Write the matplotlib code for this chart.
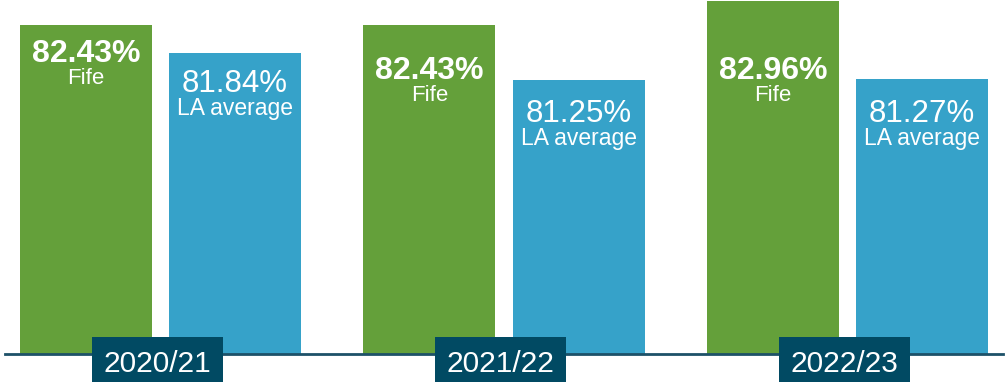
import matplotlib.pyplot as plt
import matplotlib.transforms as mtransforms
from matplotlib.patches import Rectangle
import numpy as np

plt.rcParams['font.family'] = ['Liberation Sans', 'DejaVu Sans']

# data
years = ['2020/21', '2021/22', '2022/23']
fife = [82.43, 82.43, 82.96]
la_avg = [81.84, 81.25, 81.27]

green = '#64a03a'
blue = '#36a2c9'
box_col = '#014a63'
line_col = '#1d5168'

W, H = 1006, 382
fig = plt.figure(figsize=(W / 100, H / 100), dpi=100)
base_px = 354  # axis line, pixels from top
ax = fig.add_axes([5 / W, (H - base_px) / H, 998 / W, base_px / H])

x = np.arange(len(years))
off = 0.217
bw = 0.384
ax.bar(x - off, fife, width=bw, color=green, zorder=1)
ax.bar(x + off, la_avg, width=bw, color=blue, zorder=1)

ax.set_xlim(-0.452, 2.452)
ax.set_ylim(75.3, 82.98)

# label baselines (pixels from top of figure)
fife_base = [62, 79, 79]
la_base = [92, 122, 122]
trans = mtransforms.blended_transform_factory(ax.transData, ax.transAxes)


def yfrac(px):
    return (base_px - px) / base_px


for i in range(len(years)):
    ax.text(x[i] - off, yfrac(fife_base[i]), f'{fife[i]:.2f}%', transform=trans,
            ha='center', va='baseline', color='white', fontsize=23, fontweight='bold')
    ax.text(x[i] - off, yfrac(fife_base[i] + 22), 'Fife', transform=trans,
            ha='center', va='baseline', color='white', fontsize=16)
    ax.text(x[i] + off, yfrac(la_base[i]), f'{la_avg[i]:.2f}%', transform=trans,
            ha='center', va='baseline', color='white', fontsize=22.5)
    ax.text(x[i] + off, yfrac(la_base[i] + 23), 'LA average', transform=trans,
            ha='center', va='baseline', color='white', fontsize=16.5)

    # year box
    bx = x[i] - 0.01
    ax.add_patch(Rectangle((bx - 0.19, -45 / base_px), 0.381, 62 / base_px,
                           transform=trans, facecolor=box_col, edgecolor='none',
                           clip_on=False, zorder=4))
    ax.text(bx, yfrac(372), years[i], transform=trans, ha='center', va='baseline',
            color='white', fontsize=21.5, zorder=5, clip_on=False)

for s in ['top', 'left', 'right']:
    ax.spines[s].set_visible(False)
ax.spines['bottom'].set_color(line_col)
ax.spines['bottom'].set_linewidth(2)
ax.spines['bottom'].set_zorder(3)
ax.set_xticks([])
ax.set_yticks([])
ax.patch.set_alpha(0)

fig.savefig('out.png', dpi=100)
